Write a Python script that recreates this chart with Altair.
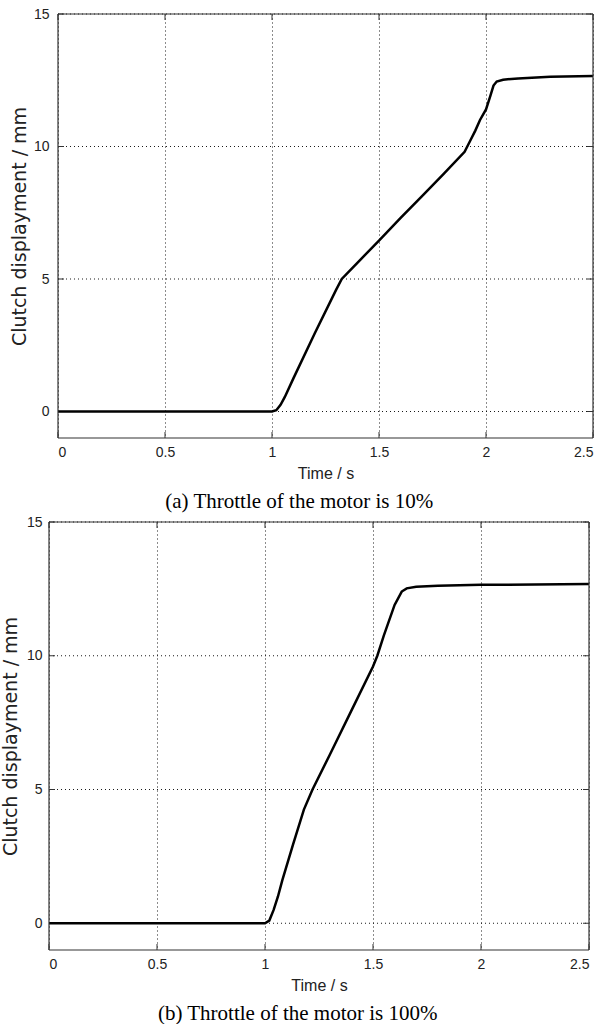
import altair as alt
import pandas as pd

# ---- data ----
time_a = [0.0, 1.0, 1.02, 1.04, 1.06, 1.1, 1.2, 1.3, 1.326, 1.4, 1.5, 1.6, 1.7, 1.8,
          1.9, 1.925, 1.95, 1.972, 2.0, 2.02, 2.035, 2.05, 2.08, 2.15, 2.3, 2.5]
disp_a = [0.0, 0.0, 0.05, 0.25, 0.55, 1.25, 2.95, 4.6, 5.0, 5.62, 6.45, 7.3, 8.12, 8.95,
          9.8, 10.2, 10.6, 11.0, 11.4, 11.9, 12.3, 12.45, 12.52, 12.57, 12.63, 12.66]

time_b = [0.0, 1.0, 1.02, 1.04, 1.06, 1.08, 1.13, 1.18, 1.22, 1.3, 1.4, 1.5, 1.52,
          1.55, 1.6, 1.633, 1.656, 1.7, 1.8, 2.0, 2.5]
disp_b = [0.0, 0.0, 0.1, 0.5, 1.0, 1.6, 2.95, 4.25, 5.0, 6.3, 7.95, 9.6, 10.0,
          10.75, 11.9, 12.4, 12.52, 12.58, 12.62, 12.65, 12.68]

x_ticks = [0, 0.5, 1, 1.5, 2, 2.5]
y_ticks = [0, 5, 10, 15]
x_domain = [0, 2.5]
y_domain = [-1, 15]

caption_a = "(a) Throttle of the motor is 10%"
caption_b = "(b) Throttle of the motor is 100%"
x_title = "Time / s"
y_title = "Clutch displayment / mm"

FRAME = "#333333"
TXT = "#222222"
DASH = [1, 3]


def panel(times, disps, x_off, W, H, caption, label_pad, title_pad, cap_dx):
    df = pd.DataFrame({"t": times, "d": disps})
    df_xt = pd.DataFrame({"t": x_ticks})
    df_yt = pd.DataFrame({"d": y_ticks})
    one = pd.DataFrame({"k": [0]})
    GW = x_off + W

    x_enc = alt.X("t:Q", scale=alt.Scale(domain=x_domain, range=[x_off, GW], nice=False, zero=False),
                  axis=alt.Axis(values=x_ticks, format="~g", title=x_title, grid=True,
                                labelPadding=7, titlePadding=6, titleX=x_off + W / 2))
    y_enc = alt.Y("d:Q", scale=alt.Scale(domain=y_domain, nice=False, zero=False),
                  axis=alt.Axis(values=y_ticks, format="~g", title=y_title, grid=False,
                                labelPadding=label_pad, titlePadding=title_pad,
                                titleFont="DejaVu Sans", titleFontSize=19))

    # horizontal dotted grid inside the frame
    ygrid = alt.Chart(df_yt).mark_rule(color="black", strokeWidth=1, strokeDash=DASH,
                                       opacity=0.9).encode(
        y=y_enc, x=alt.value(x_off), x2=alt.value(GW))

    line = alt.Chart(df).mark_line(color="black", strokeWidth=2.5).encode(x=x_enc, y=y_enc)

    # MATLAB-style inward ticks on all four sides
    bt = alt.Chart(df_xt).mark_rule(color=FRAME, strokeWidth=1).encode(
        x=x_enc, y=alt.value(H), y2=alt.value(H - 6))
    tt = alt.Chart(df_xt).mark_rule(color=FRAME, strokeWidth=1).encode(
        x=x_enc, y=alt.value(0), y2=alt.value(6))
    lt = alt.Chart(df_yt).mark_rule(color=FRAME, strokeWidth=1).encode(
        y=y_enc, x=alt.value(x_off), x2=alt.value(x_off + 6))
    rt = alt.Chart(df_yt).mark_rule(color=FRAME, strokeWidth=1).encode(
        y=y_enc, x=alt.value(GW), x2=alt.value(GW - 6))

    # frame box
    f_top = alt.Chart(one).mark_rule(color=FRAME, strokeWidth=1.2).encode(
        x=alt.value(x_off), x2=alt.value(GW), y=alt.value(0))
    f_bot = alt.Chart(one).mark_rule(color=FRAME, strokeWidth=1.2).encode(
        x=alt.value(x_off), x2=alt.value(GW), y=alt.value(H))
    f_left = alt.Chart(one).mark_rule(color=FRAME, strokeWidth=1.2).encode(
        x=alt.value(x_off), y=alt.value(0), y2=alt.value(H))
    f_right = alt.Chart(one).mark_rule(color=FRAME, strokeWidth=1.2).encode(
        x=alt.value(GW), y=alt.value(0), y2=alt.value(H))

    layers = [ygrid, bt, tt, lt, rt, line, f_top, f_bot, f_left, f_right]

    return alt.layer(*layers).properties(
        width=GW, height=H,
        view=alt.ViewBackground(stroke=None),
        title=alt.TitleParams(text=caption, orient="bottom", anchor="middle", frame="bounds",
                              font="Liberation Serif", fontSize=21, fontWeight="normal",
                              color="black", offset=10, dx=cap_dx),
    )


pa = panel(time_a, disp_a, 9, 535, 424, caption_a, 0, 4, -5)
pb = panel(time_b, disp_b, 0, 540, 428, caption_b, 7, 6, 0)

chart = alt.concat(pa, pb, columns=1, spacing=3).properties(
    padding={"left": 1, "top": 7, "right": 0, "bottom": 0}
).configure(
    background="white"
).configure_view(
    stroke=None
).configure_axis(
    domain=False, ticks=False, tickSize=0,
    gridColor="black", gridDash=DASH, gridWidth=1, gridOpacity=0.9,
    labelFont="Liberation Sans", labelFontSize=14, labelColor=TXT,
    titleFont="Liberation Sans", titleFontSize=16, titleFontWeight="normal", titleColor=TXT,
)

chart.save("out.html", embed_options={"renderer": "svg", "actions": False})
